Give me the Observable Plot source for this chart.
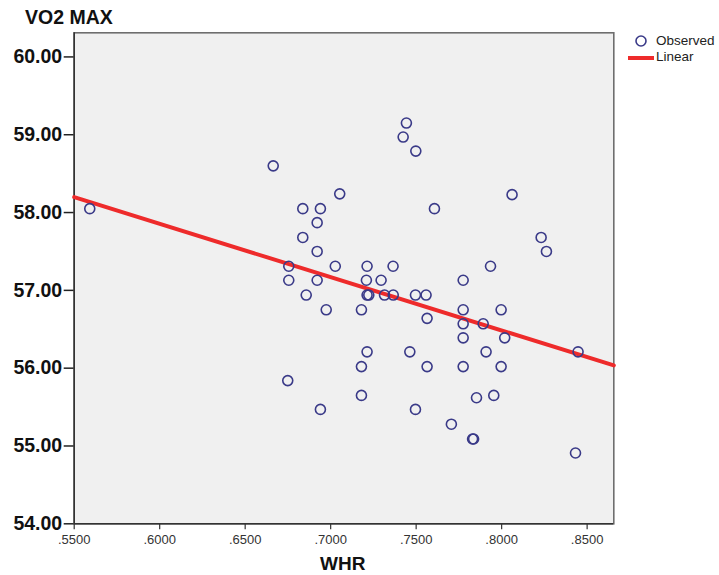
<!DOCTYPE html>
<html>
<head>
<meta charset="utf-8">
<script src="https://cdn.jsdelivr.net/npm/d3@7"></script>
<script src="https://cdn.jsdelivr.net/npm/@observablehq/plot@0.6"></script>
<style>
  html, body { margin: 0; padding: 0; background: #fff; }
  #wrap { position: relative; width: 719px; height: 575px; overflow: hidden; font-family: "Liberation Sans", Arial, sans-serif; }
  #wrap svg { position: absolute; left: 0; top: 0; }
  .lbl { position: absolute; font-weight: bold; color: #111; white-space: nowrap; line-height: 1; }
  #legend { position: absolute; left: 626px; top: 33px; font-size: 13.5px; color: #222; line-height: 16px; }
  #legend .row { display: flex; align-items: center; height: 16px; }
  #legend svg { position: static; }
</style>
</head>
<body>
<div id="wrap">
  <div class="lbl" style="left:25px; top:8px; font-size:19.5px;">VO2 MAX</div>
  <div class="lbl" style="left:320px; top:554px; font-size:19px;">WHR</div>
  <div id="legend">
    <div class="row"><svg width="30" height="16"><circle cx="15" cy="8" r="5" fill="none" stroke="#3a3a88" stroke-width="1.6"></circle></svg><span>Observed</span></div>
    <div class="row"><svg width="30" height="16"><line x1="2" x2="28" y1="9" y2="9" stroke="#ee2b2b" stroke-width="4"></line></svg><span>Linear</span></div>
  </div>
</div>
<script>
// Observed points (WHR, VO2 MAX)
const whr = [0.5591, 0.6664, 0.7053, 0.6837, 0.6940, 0.6921, 0.6837, 0.6921, 0.6755, 0.7027,
             0.7213, 0.6755, 0.6921, 0.7209, 0.6857, 0.6974, 0.7180, 0.7213, 0.7180, 0.6749,
             0.7180, 0.6940, 0.7443, 0.7424, 0.7498, 0.7607, 0.7365, 0.7295, 0.7775, 0.7935,
             0.7213, 0.7223, 0.7315, 0.7366, 0.7496, 0.7558, 0.7564, 0.7775, 0.7775, 0.7892,
             0.7775, 0.7463, 0.7909, 0.7564, 0.7775, 0.7853, 0.7954, 0.7496, 0.7706, 0.7830,
             0.7836, 0.7997, 0.8018, 0.7997, 0.8447, 0.8432, 0.8061, 0.8231, 0.8262];
const vo2 = [58.05, 58.60, 58.24, 58.05, 58.05, 57.87, 57.68, 57.50, 57.31, 57.31,
             57.31, 57.13, 57.13, 57.13, 56.94, 56.75, 56.75, 56.21, 56.02, 55.84,
             55.65, 55.47, 59.15, 58.97, 58.79, 58.05, 57.31, 57.13, 57.13, 57.31,
             56.94, 56.94, 56.94, 56.94, 56.94, 56.94, 56.64, 56.75, 56.57, 56.57,
             56.39, 56.21, 56.21, 56.02, 56.02, 55.62, 55.65, 55.47, 55.28, 55.09,
             55.09, 56.75, 56.39, 56.02, 56.21, 54.91, 58.23, 57.68, 57.50];
// Linear fit
const fitIntercept = 61.967;
const fitSlope = -6.853;
// Axes
const xDomain = [0.55, 0.8656];
const yDomain = [54, 60.31];
const xTicks = [0.55, 0.60, 0.65, 0.70, 0.75, 0.80, 0.85];
const yTicks = [54, 55, 56, 57, 58, 59, 60];

const points = whr.map((w, i) => ({whr: w, vo2: vo2[i]}));
const fitLine = xDomain.map(x => ({whr: x, vo2: fitIntercept + fitSlope * x}));

const chart = Plot.plot({
  width: 719,
  height: 575,
  marginLeft: 73.7,
  marginRight: 105.7,
  marginTop: 32.3,
  marginBottom: 51.7,
  style: {fontFamily: '"Liberation Sans", Arial, sans-serif', background: "transparent"},
  x: {domain: xDomain},
  y: {domain: yDomain},
  marks: [
    Plot.frame({fill: "#f0f0f0", stroke: "#6e6e6e", strokeWidth: 1.6}),
    Plot.axisY({ticks: yTicks, tickFormat: d => d.toFixed(2), tickSize: 10, tickPadding: 2,
                fontSize: 19.5, fontWeight: "bold", fill: "#111", stroke: "#222", strokeWidth: 1.5, label: null}),
    Plot.axisX({ticks: xTicks, tickFormat: d => d.toFixed(4).replace(/^0/, ""), tickSize: 6, tickPadding: 5,
                fontSize: 13, fill: "#333", stroke: "#333", strokeWidth: 1.2, label: null}),
    Plot.ruleX([xDomain[0]], {stroke: "#333", strokeWidth: 1.6}),
    Plot.ruleY([yDomain[0]], {stroke: "#333", strokeWidth: 1.6}),
    Plot.line(fitLine, {x: "whr", y: "vo2", stroke: "#ee2b2b", strokeWidth: 4}),
    Plot.dot(points, {x: "whr", y: "vo2", r: 5, stroke: "#3a3a88", strokeWidth: 1.6, fill: "none"})
  ]
});
document.getElementById("wrap").prepend(chart);
</script>
</body>
</html>
